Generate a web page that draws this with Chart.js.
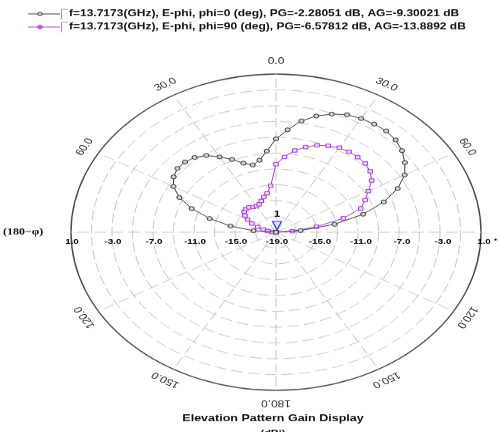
<!DOCTYPE html>
<html><head><meta charset="utf-8">
<script src="https://cdn.jsdelivr.net/npm/chart.js@4.4.0/dist/chart.umd.min.js"></script>
<style>
html,body{margin:0;padding:0;background:#fff;overflow:hidden;width:499px;height:432px;}
#wrap{position:absolute;left:0;top:0;width:499px;height:560px;transform:scale(1,0.771429);transform-origin:0 0;}
canvas{display:block;}
</style></head><body>
<div id="wrap"><canvas id="c" width="499" height="560" style="width:499px;height:560px"></canvas></div>
<script>
// Elevation angle categories (deg, clockwise from top; 180..355 = the (180-phi) half)
const thetaDeg = [0,5,10,15,20,25,30,35,40,45,50,55,60,65,70,75,80,85,
  90,95,100,105,110,115,120,125,130,135,140,145,150,155,160,165,170,175,
  180,185,190,195,200,205,210,215,220,225,230,235,240,245,250,255,260,265,
  270,275,280,285,290,295,300,305,310,315,320,325,330,335,340,345,350,355];

// Gain (dB), phi = 0 cut
const gainPhi0 = [-7.2,-6.0,-4.7,-3.8,-3.1,-2.6,-2.4,-2.3,-2.28,-2.5,-2.95,-3.65,-4.5,-5.9,-7.8,-10.2,-13.2,-16.6,
  -19,-19,-19,-19,-19,-19,-19,-19,-19,-19,-19,-19,-19,-19,-19,-19,-19,-19,
  -19,-19,-19,-19,-19,-19,-19,-19,-19,-19,-19,-19,-19,-19,-19,-19,-19,-19,
  -19,-16.8,-14.5,-12.3,-10.25,-8.6,-7.45,-6.8,-6.45,-6.45,-6.65,-7.15,-8.0,-8.85,-9.7,-10.2,-9.75,-8.7];

// Gain (dB), phi = 90 cut
const gainPhi90 = [-10.4,-9.45,-8.5,-7.85,-7.3,-6.95,-6.65,-6.58,-6.6,-6.7,-7.0,-7.6,-8.6,-9.4,-10.2,-12.2,-15.0,-17.4,
  -19,-19,-19,-19,-19,-19,-19,-19,-19,-19,-19,-19,-19,-19,-19,-19,-19,-19,
  -19,-19,-19,-19,-19,-19,-19,-19,-19,-19,-19,-19,-19,-19,-19,-19,-19,-19,
  -19,-18.6,-18.2,-17.7,-17.1,-16.4,-15.8,-15.3,-14.95,-14.85,-14.9,-15.1,-15.2,-15.1,-14.8,-14.4,-14.0,-13.1];

const seriesNames = [
  'f=13.7173(GHz), E-phi, phi=0 (deg), PG=-2.28051 dB, AG=-9.30021 dB',
  'f=13.7173(GHz), E-phi, phi=90 (deg), PG=-6.57812 dB, AG=-13.8892 dB'
];
const radialTicks = [-19, -15, -11, -7, -3, 1];
const angleTickDeg = [0, 30, 60, 90, 120, 150, 180, 210, 240, 270, 300, 330];
const angleTickText = ['0.0','30.0','60.0','','120.0','150.0','180.0','150.0','120.0','(180\u2212\u03c6)','60.0','30.0'];
const markerTheta = 90;
const markerValue = -19;
const titleText = 'Elevation Pattern Gain Display';
const unitText = '(dBi)';

const COL0 = '#3a3a3a';
const COL1 = '#a43ad8';

const overlay = {
  id: 'overlay',
  afterDatasetsDraw(chart) {
    const ctx = chart.ctx;
    const s = chart.scales.r;
    const cx = s.xCenter, cy = s.yCenter;
    ctx.save();
    // radial tick labels along horizontal axis
    ctx.font = 'bold 9.8px "Liberation Sans", Arial, sans-serif';
    ctx.fillStyle = '#000';
    ctx.textAlign = 'center';
    ctx.textBaseline = 'middle';
    radialTicks.forEach(v => {
      const d = s.getDistanceFromCenterForValue(v);
      const t = v.toFixed(1);
      if (d < 0.5) { ctx.fillText(t, cx + 1, cy + 12); }
      else { ctx.fillText(t, cx - d + 1, cy + 12); ctx.fillText(t, cx + d + 3, cy + 12); }
    });
    // angle labels, rotated tangentially
    ctx.font = '12px "Liberation Sans", Arial, sans-serif';
    ctx.fillStyle = '#2a2a2a';
    const R = s.drawingArea + 16;
    angleTickDeg.forEach((a, k) => {
      const txt = angleTickText[k];
      if (!txt) return;
      const idx = thetaDeg.indexOf(a);
      const p = s.getPointPosition(idx, R);
      if (a === 270) {
        ctx.save();
        ctx.font = 'bold 12px "Liberation Serif", "Times New Roman", serif';
        ctx.fillStyle = '#111';
        ctx.textAlign = 'left';
        ctx.fillText(txt, 3, cy);
        ctx.restore();
        return;
      }
      const rot = (a > 180 ? a - 360 : a) * Math.PI / 180;
      ctx.save();
      ctx.translate(p.x, p.y);
      ctx.rotate(rot);
      ctx.fillText(txt, 0, 0);
      ctx.restore();
    });
    // small cut-off label on the right
    ctx.font = 'bold 9px "Liberation Sans", Arial, sans-serif';
    ctx.fillStyle = '#222';
    ctx.textAlign = 'left';
    ctx.fillText('\u2022', 494, cy + 11);

    // marker "1" (downward triangle)
    const mi = thetaDeg.indexOf(markerTheta);
    const mp = s.getPointPosition(mi, s.getDistanceFromCenterForValue(markerValue));
    ctx.beginPath();
    ctx.moveTo(mp.x + 1 - 4.5, mp.y - 14);
    ctx.lineTo(mp.x + 1 + 4.5, mp.y - 14);
    ctx.lineTo(mp.x + 1, mp.y - 3);
    ctx.closePath();
    ctx.fillStyle = 'rgba(210,215,255,0.6)';
    ctx.fill();
    ctx.strokeStyle = '#2a35c8';
    ctx.lineWidth = 1.2;
    ctx.stroke();
    ctx.font = 'bold 11px "Liberation Sans", Arial, sans-serif';
    ctx.fillStyle = '#111';
    ctx.textAlign = 'center';
    ctx.fillText('1', mp.x + 1, mp.y - 23);

    // legend
    const legY = [18, 35];
    const legCol = [COL0, COL1];
    legY.forEach((y, k) => {
      ctx.strokeStyle = legCol[k];
      ctx.lineWidth = 1;
      ctx.beginPath(); ctx.moveTo(28, y); ctx.lineTo(60, y); ctx.stroke();
      ctx.beginPath(); ctx.arc(40, y, 2.3, 0, Math.PI * 2);
      ctx.fillStyle = k === 0 ? '#cfcfcf' : '#b060e0';
      ctx.fill(); ctx.stroke();
      ctx.strokeStyle = '#9a9a9a';
      ctx.beginPath(); ctx.moveTo(61.5, y + 7); ctx.lineTo(61.5, y - 6); ctx.lineTo(68, y - 6); ctx.stroke();
      ctx.font = 'bold 12px "Liberation Sans", Arial, sans-serif';
      ctx.fillStyle = '#111';
      ctx.textAlign = 'left';
      ctx.fillText(seriesNames[k], 69, y);
    });

    // title
    ctx.font = 'bold 12.5px "Liberation Sans", Arial, sans-serif';
    ctx.textAlign = 'center';
    ctx.fillStyle = '#111';
    ctx.fillText(titleText, 273, 543);
    ctx.font = 'bold 11px "Liberation Sans", Arial, sans-serif';
    ctx.fillText(unitText, 273, 562);
    ctx.restore();
  }
};

new Chart(document.getElementById('c'), {
  type: 'radar',
  data: {
    labels: thetaDeg,
    datasets: [
      {
        label: seriesNames[0], data: gainPhi0, fill: false,
        borderColor: COL0, borderWidth: 1,
        pointStyle: 'circle', pointRadius: 2.6,
        pointBackgroundColor: '#d0d0d0', pointBorderColor: '#333', pointBorderWidth: 1
      },
      {
        label: seriesNames[1], data: gainPhi90, fill: false,
        borderColor: COL1, borderWidth: 1,
        pointStyle: 'rect', pointRadius: 3.2,
        pointBackgroundColor: '#ecd6fa', pointBorderColor: COL1, pointBorderWidth: 1
      }
    ]
  },
  options: {
    responsive: false,
    animation: false,
    events: [],
    layout: { padding: { left: 71, right: 18, top: 96, bottom: 54 } },
    plugins: { legend: { display: false }, title: { display: false }, tooltip: { enabled: false } },
    elements: { line: { tension: 0 } },
    scales: {
      r: {
        min: -19, max: 1,
        startAngle: 0,
        ticks: { display: false, stepSize: 2 },
        pointLabels: { display: false },
        grid: {
          circular: true,
          color: c => (c.tick && c.tick.value === 1) ? '#4a4a4a' : '#c6c6c6',
          lineWidth: c => (c.tick && c.tick.value === 1) ? 1.4 : 1
        },
        border: { dash: c => (c.tick && c.tick.value === 1) ? [] : [12, 5] },
        angleLines: {
          color: '#c6c6c6',
          lineWidth: c => (c.index % 6 === 0) ? 1 : 0,
          borderDash: [12, 5]
        }
      }
    }
  },
  plugins: [overlay]
});
</script>
</body></html>
